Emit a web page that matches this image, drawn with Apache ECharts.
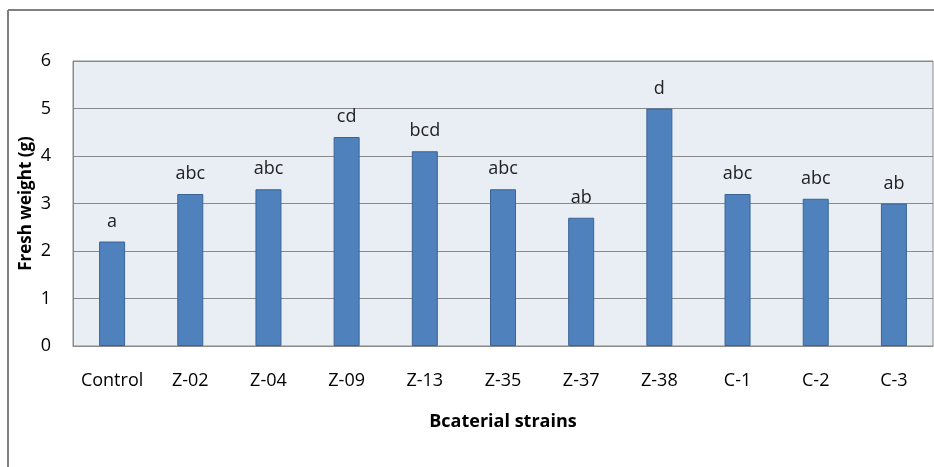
<!DOCTYPE html>
<html><head><meta charset="utf-8">
<script src="https://cdn.jsdelivr.net/npm/echarts@6/dist/echarts.min.js"></script>
<style>html,body{margin:0;padding:0;background:#fff}#c{width:934px;height:467px}</style>
</head><body><div id="c"></div>
<script>
const categories = ['Control','Z-02','Z-04','Z-09','Z-13','Z-35','Z-37','Z-38','C-1','C-2','C-3'];
const values = [2.2, 3.2, 3.3, 4.4, 4.1, 3.3, 2.7, 5.0, 3.2, 3.1, 3.0];
const letters = ['a','abc','abc','cd','bcd','abc','ab','d','abc','abc','ab'];
const yTicks = [0,1,2,3,4,5,6];
const font = '"Open Sans", "Noto Sans", sans-serif';
const chart = echarts.init(document.getElementById('c'));
chart.setOption({
  animation: false,
  graphic: [
    {type:'line', shape:{x1:8,y1:10,x2:934,y2:10}, style:{stroke:'#808080', lineWidth:2}},
    {type:'line', shape:{x1:8,y1:10,x2:8,y2:467}, style:{stroke:'#808080', lineWidth:2}}
  ],
  grid: {left:73, right:1, top:61, bottom:121, show:true, backgroundColor:'#E9EDF4', borderColor:'#8a8a8a', borderWidth:1},
  xAxis: {
    type:'category', data:categories,
    name:'Bcaterial strains', nameLocation:'middle', nameGap:67, nameMoveOverlap:false,
    nameTextStyle:{fontFamily:font, fontWeight:'bold', fontSize:18, color:'#000'},
    axisLine:{lineStyle:{color:'#8a8a8a'}}, axisTick:{show:false},
    axisLabel:{fontFamily:font, fontSize:18, color:'#000', margin:26, interval:0}
  },
  yAxis: {
    type:'value', min:0, max:6, interval:1,
    name:'Fresh weight (g)', nameLocation:'middle', nameGap:38, nameMoveOverlap:false,
    nameTextStyle:{fontFamily:font, fontWeight:'bold', fontSize:17, color:'#000'},
    axisLine:{show:true, lineStyle:{color:'#8a8a8a'}}, axisTick:{show:false},
    axisLabel:{fontFamily:font, fontSize:18, color:'#000', margin:22, formatter:v=>yTicks.includes(v)?String(v):''},
    splitLine:{lineStyle:{color:'#8a8a8a', width:1}}
  },
  series: [{
    type:'bar', data:values, barWidth:26,
    itemStyle:{color:'#4F81BD', borderColor:'#3A6496', borderWidth:1},
    label:{show:true, position:'top', distance:11, fontFamily:font, fontSize:18, color:'#222',
      formatter:p=>letters[p.dataIndex]}
  }]
});
</script></body></html>
